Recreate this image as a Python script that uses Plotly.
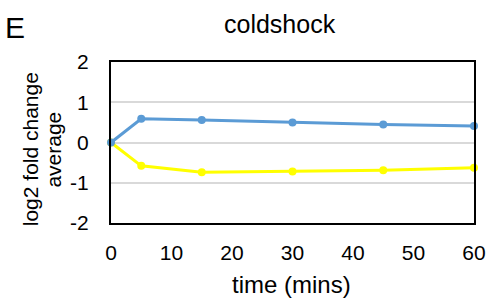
import plotly.graph_objects as go

time_mins = [0, 5, 15, 30, 45, 60]
series_blue = [0, 0.59, 0.56, 0.50, 0.45, 0.41]
series_yellow = [0, -0.58, -0.74, -0.72, -0.69, -0.63]
x_tick_vals = [0, 10, 20, 30, 40, 50, 60]
x_tick_labels = ["0", "10", "20", "30", "40", "50", "60"]
y_tick_vals = [-2, -1, 0, 1, 2]
y_tick_labels = ["-2", "-1", "0", "1", "2"]

FONT = "Liberation Sans, Arial, sans-serif"
W, H = 498, 298
L, R, T, B = 111, 14, 62, 75

fig = go.Figure()
fig.add_trace(go.Scatter(x=time_mins, y=series_yellow, mode="lines+markers",
                         line=dict(color="#FFFF00", width=3),
                         marker=dict(color="#FFFF00", size=8),
                         cliponaxis=False, showlegend=False))
fig.add_trace(go.Scatter(x=time_mins, y=series_blue, mode="lines+markers",
                         line=dict(color="#5B9BD5", width=3),
                         marker=dict(color="#5B9BD5", size=8),
                         cliponaxis=False, showlegend=False))

pw = W - L - R
ph = H - T - B

def px_x(p):
    return (p - L) / pw

def px_y(p):
    return (H - B - p) / ph

fig.update_layout(
    width=W, height=H,
    margin=dict(l=L, r=R, t=T, b=B, pad=0),
    paper_bgcolor="white", plot_bgcolor="white",
    font=dict(family=FONT, size=21, color="black"),
    xaxis=dict(range=[0, 60], tickvals=x_tick_vals, ticktext=x_tick_labels,
               showgrid=False, zeroline=False, showline=True, linecolor="black",
               linewidth=2, mirror=True, ticks="", ticklabelstandoff=10,
               tickfont=dict(size=21)),
    yaxis=dict(range=[-2, 2], tickvals=y_tick_vals, ticktext=y_tick_labels,
               showgrid=True, gridcolor="#D9D9D9", gridwidth=1.5, zeroline=False,
               showline=True, linecolor="black", linewidth=2, mirror=True,
               ticks="", ticklabelstandoff=16, tickfont=dict(size=21)),
    annotations=[
        dict(text="time (mins)",
             xref="paper", yref="paper", x=px_x(296.5), y=px_y(284),
             xanchor="center", yanchor="middle", showarrow=False,
             font=dict(size=24)),
        dict(text="log2 fold change", textangle=-90,
             xref="paper", yref="paper", x=px_x(28), y=px_y(149),
             xanchor="center", yanchor="middle", showarrow=False,
             font=dict(size=21)),
        dict(text="average", textangle=-90,
             xref="paper", yref="paper", x=px_x(51), y=px_y(150),
             xanchor="center", yanchor="middle", showarrow=False,
             font=dict(size=21)),
        dict(text="coldshock", xref="paper", yref="paper",
             x=px_x(285), y=px_y(24.5), xanchor="center", yanchor="middle",
             showarrow=False, font=dict(size=25)),
        dict(text="E", xref="paper", yref="paper",
             x=px_x(0), y=px_y(27.5), xanchor="left", yanchor="middle",
             showarrow=False, font=dict(size=30)),
    ],
)

fig.write_html("out.html", config={"displayModeBar": False},
               post_script="document.body.style.margin='0';")
